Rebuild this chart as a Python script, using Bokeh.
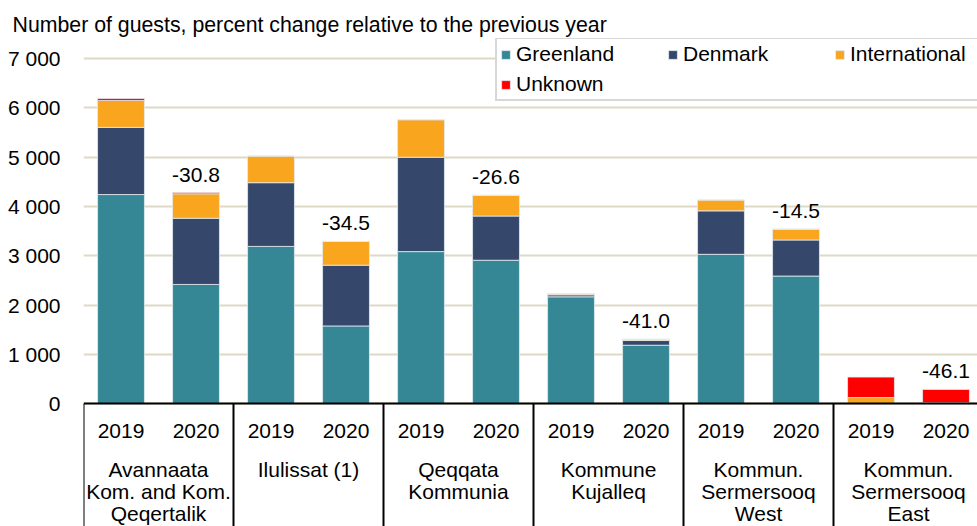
from bokeh.plotting import figure
from bokeh.models import (ColumnDataSource, Range1d, LinearAxis, FixedTicker, Grid,
                          Legend, LegendItem, Title)
from bokeh.core.properties import value
from bokeh.embed import file_html
from bokeh.resources import INLINE

# ---------------- data ----------------
title_text = "Number of guests, percent change relative to the previous year"
regions = ["Avannaata\nKom. and Kom.\nQeqertalik", "Ilulissat (1)", "Qeqqata\nKommunia",
           "Kommune\nKujalleq", "Kommun.\nSermersooq\nWest", "Kommun.\nSermersooq\nEast"]
years = ["2019", "2020"]
series = ["Greenland", "Denmark", "International", "Unknown"]
greenland = [4240, 2420, 3190, 1580, 3085, 2910, 2170, 1190, 3030, 2590, 0, 0]
denmark = [1360, 1340, 1290, 1230, 1910, 895, 40, 95, 880, 730, 0, 0]
international = [545, 495, 540, 480, 760, 420, 20, 25, 220, 220, 130, 25]
unknown = [40, 25, 0, 0, 0, 0, 0, 0, 0, 0, 415, 270]
pct_change = ["-30.8", "-34.5", "-26.6", "-41.0", "-14.5", "-46.1"]
y_ticks = [0, 1000, 2000, 3000, 4000, 5000, 6000, 7000]
y_tick_labels = ["0", "1 000", "2 000", "3 000", "4 000", "5 000", "6 000", "7 000"]

colors = ["#368796", "#35486b", "#f9a51e", "#ff0000"]
FONT = "Liberation Sans"
FS = "21px"

Y0 = -2480
n_bars = len(regions) * len(years)
xs = [2 * i + 1 for i in range(n_bars)]
src = ColumnDataSource(dict(x=xs, Greenland=greenland, Denmark=denmark,
                            International=international, Unknown=unknown))

p = figure(width=977, height=526, output_backend="svg", toolbar_location=None,
           x_range=Range1d(0, 23.84), y_range=Range1d(Y0, 7399),
           x_axis_type=None, y_axis_type=None,
           min_border_left=83, min_border_right=0, min_border_top=38, min_border_bottom=0,
           outline_line_color=None, background_fill_color="white")

p.add_layout(Title(text=title_text, align="left", offset=-71, standoff=4,
                   text_font=FONT, text_font_size="21.3px", text_font_style="normal",
                   text_color="black"), "above")

# grid
p.add_layout(Grid(dimension=1, ticker=FixedTicker(ticks=y_ticks),
                  grid_line_color="#dedac6", grid_line_width=2))

# bars
rs = p.vbar_stack(series, x="x", width=1.25, color=colors, source=src,
                  line_color="#e3ecf0", line_width=0.8)

# group separators below the baseline
bounds = [4 * k for k in range(len(regions) + 1)]
p.segment(x0=bounds, y0=[0] * len(bounds), x1=bounds, y1=[Y0] * len(bounds),
          line_color="black", line_width=2)

# percent labels
totals = [g + d + i + u for g, d, i, u in zip(greenland, denmark, international, unknown)]
lab_src = ColumnDataSource(dict(x=xs[1::2], y=totals[1::2], text=pct_change))
p.text(x="x", y="y", text="text", source=lab_src, text_font=value(FONT),
       text_font_size=value(FS), text_align="center", text_baseline="bottom",
       y_offset=-11, text_color="black")

# y axis
yax = LinearAxis(ticker=FixedTicker(ticks=y_ticks),
                 major_label_overrides=dict(zip(y_ticks, y_tick_labels)),
                 axis_line_color=None, major_tick_line_color=None, minor_tick_line_color=None,
                 major_label_standoff=17, major_label_text_font=FONT,
                 major_label_text_font_size=FS, major_label_text_color="black")
p.add_layout(yax, "left")

# year labels + baseline
year_ax = LinearAxis(fixed_location=0, ticker=FixedTicker(ticks=xs),
                     major_label_overrides={x: years[i % 2] for i, x in enumerate(xs)},
                     axis_line_color="black", axis_line_width=2,
                     major_tick_line_color=None, minor_tick_line_color=None,
                     major_tick_out=0, major_label_standoff=20, major_label_text_font=FONT,
                     major_label_text_font_size=FS, major_label_text_color="black")
p.add_layout(year_ax, "below")

# region labels
centers = [4 * k + 2 for k in range(len(regions))]
reg_ax = LinearAxis(fixed_location=0, ticker=FixedTicker(ticks=centers),
                    major_label_overrides=dict(zip(centers, regions)),
                    axis_line_color=None, major_tick_line_color=None, minor_tick_line_color=None,
                    major_tick_out=0, major_label_standoff=54, major_label_text_font=FONT,
                    major_label_text_font_size=FS, major_label_text_color="black",
                    major_label_text_line_height=0.96)
p.add_layout(reg_ax, "below")

# legend
legend = Legend(items=[LegendItem(label=s, renderers=[r]) for s, r in zip(series, rs)],
                location=(412, 425), orientation="horizontal", ncols=3,
                glyph_width=11, glyph_height=11, label_standoff=5, label_width=145,
                label_height=24, spacing=6, padding=3, margin=0,
                label_text_font=FONT, label_text_font_size=FS, label_text_color="black",
                border_line_color="#b0b0b0", border_line_width=2,
                background_fill_color="white", background_fill_alpha=1)
p.add_layout(legend)

open("out.html", "w").write(file_html(p, INLINE))
